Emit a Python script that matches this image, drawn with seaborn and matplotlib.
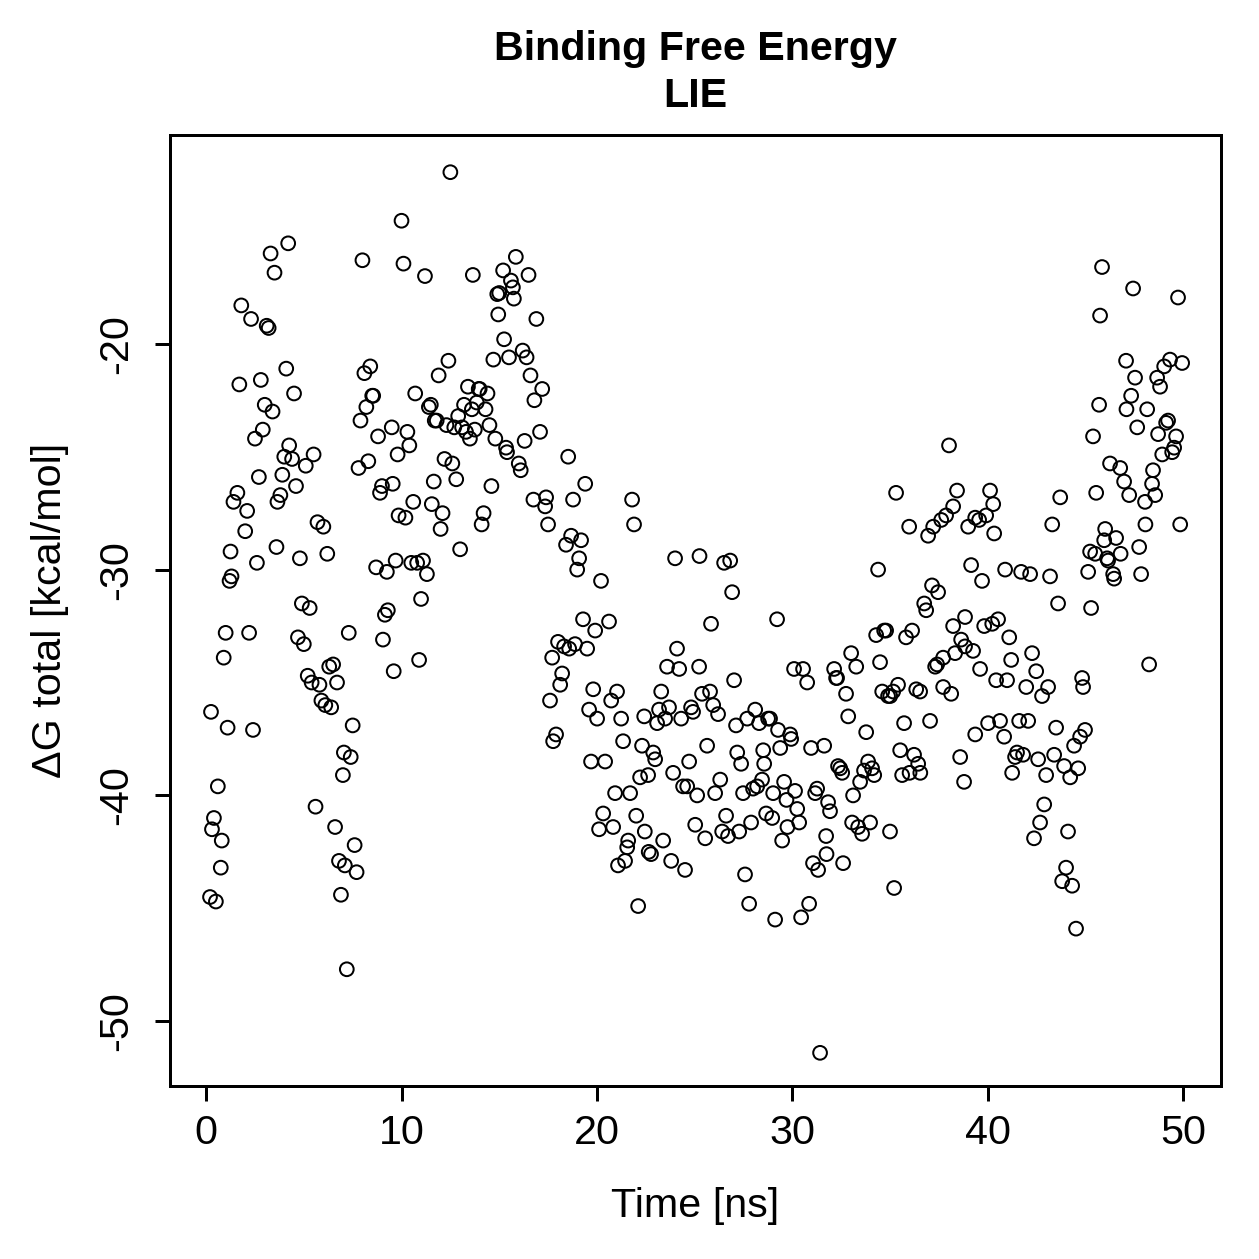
#!/usr/bin/env python3

from matplotlib import pyplot as plt
import seaborn as sns

# LIE binding free energy over the trajectory
time_ns = [
    0.2, 0.25, 0.3, 0.4, 0.5, 0.6, 0.75, 0.8, 0.9, 1.0,
    1.1, 1.2, 1.25, 1.3, 1.4, 1.6, 1.7, 1.8, 2.0, 2.1,
    2.2, 2.3, 2.4, 2.5, 2.6, 2.7, 2.8, 2.9, 3.0, 3.1,
    3.2, 3.3, 3.4, 3.5, 3.6, 3.65, 3.8, 3.9, 4.0, 4.1,
    4.2, 4.25, 4.4, 4.5, 4.6, 4.7, 4.8, 4.9, 5.0, 5.1,
    5.2, 5.3, 5.4, 5.5, 5.6, 5.7, 5.8, 5.9, 6.0, 6.1,
    6.2, 6.3, 6.4, 6.5, 6.6, 6.7, 6.8, 6.9, 7.0, 7.05,
    7.1, 7.2, 7.3, 7.4, 7.5, 7.6, 7.7, 7.8, 7.9, 8.0,
    8.1, 8.2, 8.3, 8.4, 8.5, 8.55, 8.7, 8.8, 8.9, 9.0,
    9.05, 9.15, 9.25, 9.3, 9.5, 9.55, 9.6, 9.7, 9.8, 9.85,
    10.0, 10.1, 10.2, 10.3, 10.4, 10.5, 10.6, 10.7, 10.8, 10.9,
    11.0, 11.1, 11.2, 11.3, 11.4, 11.5, 11.55, 11.65, 11.7, 11.8,
    11.9, 12.0, 12.1, 12.2, 12.3, 12.4, 12.5, 12.6, 12.7, 12.8,
    12.9, 13.0, 13.1, 13.2, 13.3, 13.4, 13.5, 13.6, 13.65, 13.75,
    13.85, 13.95, 14.0, 14.1, 14.2, 14.3, 14.4, 14.5, 14.6, 14.7,
    14.8, 14.9, 14.95, 15.0, 15.2, 15.25, 15.35, 15.4, 15.5, 15.6,
    15.7, 15.75, 15.85, 16.0, 16.1, 16.2, 16.3, 16.4, 16.5, 16.6,
    16.75, 16.8, 16.9, 17.09, 17.2, 17.35, 17.4, 17.5, 17.6, 17.71,
    17.76, 17.91, 18.01, 18.12, 18.22, 18.32, 18.42, 18.53, 18.58, 18.68,
    18.78, 18.88, 18.99, 19.09, 19.19, 19.29, 19.4, 19.5, 19.6, 19.7,
    19.81, 20.01, 19.91, 20.11, 20.21, 20.32, 20.42, 20.62, 20.73, 20.83,
    20.93, 21.03, 21.08, 21.24, 21.34, 21.44, 21.55, 21.6, 21.7, 21.8,
    21.9, 22.01, 22.11, 22.21, 22.42, 22.31, 22.45, 22.62, 22.65, 22.77,
    22.88, 22.98, 23.08, 23.18, 23.29, 23.39, 23.49, 23.59, 23.69, 23.8,
    23.9, 24.0, 24.1, 24.21, 24.31, 24.41, 24.51, 24.62, 24.72, 24.82,
    24.92, 25.03, 25.13, 25.23, 25.25, 25.38, 25.54, 25.64, 25.79, 25.84,
    25.95, 26.05, 26.2, 26.31, 26.41, 26.51, 26.61, 26.71, 26.82, 26.92,
    27.02, 27.12, 27.18, 27.28, 27.38, 27.48, 27.58, 27.69, 27.79, 27.89,
    27.99, 28.1, 28.2, 28.3, 28.45, 28.51, 28.56, 28.66, 28.76, 28.86,
    28.97, 29.02, 29.12, 29.22, 29.27, 29.38, 29.48, 29.58, 29.7, 29.75,
    29.94, 29.89, 30.09, 30.14, 30.25, 30.35, 30.45, 30.55, 30.76, 30.86,
    30.96, 31.06, 31.17, 31.27, 31.32, 31.42, 31.63, 31.73, 31.75, 31.83,
    31.93, 32.14, 32.24, 32.29, 32.34, 32.45, 32.55, 32.6, 32.75, 32.86,
    33.01, 33.06, 33.11, 33.27, 33.37, 33.47, 33.57, 33.67, 33.78, 33.88,
    33.98, 34.08, 34.19, 34.29, 34.39, 34.49, 34.6, 34.7, 34.8, 34.9,
    35.01, 35.0, 35.16, 35.21, 35.31, 35.41, 35.52, 35.62, 35.72, 35.82,
    35.98, 36.0, 36.13, 36.23, 36.34, 36.44, 36.54, 36.55, 36.75, 36.85,
    36.95, 37.05, 37.15, 37.21, 37.31, 37.46, 37.41, 37.62, 37.72, 37.87,
    37.72, 38.02, 38.13, 38.23, 38.23, 38.33, 38.43, 38.64, 38.59, 38.79,
    38.84, 38.84, 39.0, 39.15, 39.25, 39.36, 39.36, 39.56, 39.61, 39.71,
    39.82, 39.92, 40.02, 40.12, 40.23, 40.33, 40.28, 40.43, 40.53, 40.63,
    40.84, 40.89, 40.99, 41.1, 41.25, 41.2, 41.4, 41.5, 41.61, 41.71,
    41.81, 41.97, 42.07, 42.17, 42.27, 42.48, 42.37, 42.58, 42.68, 42.89,
    42.78, 42.99, 43.09, 43.19, 43.3, 43.4, 43.5, 43.6, 43.71, 43.81,
    44.01, 43.91, 44.11, 44.22, 44.32, 44.42, 44.52, 44.63, 44.73, 44.83,
    44.88, 44.98, 45.14, 45.24, 45.29, 45.39, 45.5, 45.55, 45.7, 45.75,
    45.85, 45.96, 46.01, 46.11, 46.26, 46.16, 46.42, 46.47, 46.57, 46.78,
    46.8, 46.98, 47.08, 47.1, 47.24, 47.34, 47.44, 47.54, 47.65, 47.85,
    47.75, 48.05, 48.07, 48.16, 48.26, 48.41, 48.46, 48.57, 48.67, 48.72,
    48.82, 48.93, 49.03, 49.13, 49.23, 49.33, 49.44, 49.54, 49.64, 49.74,
    49.95, 49.85,
]
dg_total = [
    -44.5, -36.3, -41.5, -41.0, -44.7, -39.6, -43.2, -42.0, -33.9, -32.8,
    -37.0, -30.5, -29.2, -30.3, -27.0, -26.6, -21.8, -18.3, -28.3, -27.4,
    -32.8, -18.9, -37.1, -24.2, -29.7, -25.9, -21.6, -23.8, -22.7, -19.2,
    -19.3, -16.0, -23.0, -16.85, -29.0, -27.0, -26.7, -25.8, -25.0, -21.1,
    -15.55, -24.5, -25.1, -22.2, -26.3, -33.0, -29.5, -31.5, -33.3, -25.4,
    -34.7, -31.7, -35.0, -24.9, -40.5, -27.9, -35.1, -35.8, -28.1, -36.0,
    -29.3, -34.3, -36.1, -34.2, -41.4, -35.0, -42.9, -44.4, -39.1, -38.1,
    -43.1, -47.7, -32.8, -38.3, -36.9, -42.2, -43.4, -25.5, -23.4, -16.3,
    -21.3, -22.8, -25.2, -21.0, -22.3, -22.3, -29.9, -24.1, -26.6, -26.3,
    -33.1, -32.0, -30.1, -31.8, -23.7, -26.2, -34.5, -29.6, -24.9, -27.6,
    -14.55, -16.45, -27.7, -23.9, -24.5, -29.7, -27.0, -22.2, -29.7, -34.0,
    -31.3, -29.6, -17.0, -30.2, -22.8, -22.7, -27.1, -26.1, -23.4, -23.4,
    -21.4, -28.2, -27.5, -25.1, -23.6, -20.75, -12.4, -25.3, -23.7, -26.0,
    -23.2, -29.1, -23.7, -22.7, -23.9, -21.9, -24.2, -22.9, -16.95, -23.8,
    -22.6, -22.0, -22.0, -28.0, -27.5, -22.9, -22.2, -23.6, -26.3, -20.7,
    -24.2, -17.8, -18.7, -17.75, -16.75, -19.8, -24.6, -24.8, -20.6, -17.2,
    -17.5, -18.0, -16.15, -25.3, -25.6, -20.3, -24.3, -20.6, -16.95, -21.4,
    -26.9, -22.5, -18.9, -23.9, -22.0, -27.2, -26.8, -28.0, -35.8, -33.9,
    -37.6, -37.3, -33.2, -35.1, -34.6, -33.4, -28.9, -25.0, -33.5, -28.5,
    -26.9, -33.3, -30.0, -29.5, -28.7, -32.2, -26.2, -33.5, -36.2, -38.5,
    -35.3, -36.6, -32.7, -41.5, -30.5, -40.8, -38.5, -32.3, -35.8, -41.4,
    -39.9, -35.4, -43.1, -36.6, -37.6, -42.9, -42.3, -42.0, -39.9, -26.9,
    -28.0, -40.9, -44.9, -39.2, -36.5, -37.8, -41.6, -39.1, -42.5, -42.6,
    -38.1, -38.4, -36.8, -36.2, -35.4, -42.0, -36.6, -34.3, -36.1, -42.9,
    -39.0, -29.5, -33.5, -34.4, -36.6, -39.6, -43.3, -39.6, -38.5, -36.1,
    -36.3, -41.3, -40.0, -34.3, -29.4, -35.5, -41.9, -37.8, -35.4, -32.4,
    -36.0, -39.9, -36.4, -39.3, -41.6, -29.7, -40.9, -41.8, -29.6, -31.0,
    -34.9, -36.9, -38.1, -41.6, -38.6, -39.9, -43.5, -36.6, -44.8, -41.2,
    -39.7, -36.2, -39.6, -36.8, -39.3, -38.0, -38.6, -40.8, -36.6, -36.6,
    -41.0, -39.9, -45.5, -32.2, -37.1, -37.9, -42.0, -39.4, -40.2, -41.4,
    -37.5, -37.3, -34.4, -39.8, -40.6, -41.2, -45.4, -34.4, -35.0, -44.8,
    -37.9, -43.0, -39.9, -39.7, -43.3, -51.4, -37.8, -41.8, -42.6, -40.3,
    -40.7, -34.4, -34.8, -34.8, -38.7, -38.8, -39.0, -43.0, -35.5, -36.5,
    -33.7, -41.2, -40.0, -34.3, -41.4, -39.4, -41.7, -38.9, -37.2, -38.5,
    -41.2, -38.8, -39.1, -32.9, -30.0, -34.1, -35.4, -32.7, -32.7, -35.6,
    -35.6, -41.6, -35.4, -44.1, -26.6, -35.1, -38.0, -39.1, -36.8, -33.0,
    -28.1, -39.0, -32.7, -38.2, -35.3, -38.6, -35.4, -39.0, -31.5, -31.8,
    -28.5, -36.7, -30.7, -28.1, -34.3, -31.0, -34.2, -27.8, -33.9, -27.6,
    -35.2, -24.5, -35.5, -27.2, -32.5, -33.7, -26.5, -33.1, -38.3, -39.4,
    -33.4, -32.1, -28.1, -29.8, -33.6, -27.7, -37.3, -27.8, -34.4, -30.5,
    -32.5, -27.6, -36.8, -26.5, -32.4, -28.4, -27.1, -34.9, -32.2, -36.7,
    -37.4, -30.0, -34.9, -33.0, -39.0, -34.0, -38.3, -38.1, -36.7, -30.1,
    -38.2, -35.2, -36.7, -30.2, -33.7, -34.5, -41.9, -38.4, -41.2, -40.4,
    -35.6, -39.1, -35.2, -30.3, -28.0, -38.2, -37.0, -31.5, -26.8, -43.8,
    -43.2, -38.7, -41.6, -39.2, -44.0, -37.8, -45.9, -38.8, -37.4, -34.8,
    -35.2, -37.1, -30.1, -29.2, -31.7, -24.1, -29.3, -26.6, -22.7, -18.75,
    -16.6, -28.7, -28.2, -29.5, -25.3, -29.6, -30.2, -30.4, -28.6, -25.5,
    -29.3, -26.1, -20.75, -22.9, -26.7, -22.3, -17.55, -21.5, -23.7, -30.2,
    -29.0, -27.0, -28.0, -22.9, -34.2, -26.2, -25.6, -26.7, -21.5, -24.0,
    -21.9, -24.9, -21.0, -23.5, -23.4, -20.7, -24.8, -24.6, -24.1, -17.95,
    -20.85, -28.0,
]
x_ticks = [0, 10, 20, 30, 40, 50]
y_ticks = [-50, -40, -30, -20]


def main():
    sns.set_theme(style="white")
    plt.rcParams["font.family"] = ["Liberation Sans", "DejaVu Sans"]

    fig = plt.figure(figsize=(1259 / 180, 1259 / 180), dpi=180)
    ax = fig.add_axes([0.135, 0.1374, 0.835, 0.7556])

    sns.scatterplot(
            x=time_ns, y=dg_total, ax=ax,
            marker="o", s=30, facecolors="none", edgecolor="black",
            linewidth=0.8,
            )

    ax.set_xlim(-1.85, 51.95)
    ax.set_ylim(-52.87, -10.74)
    ax.set_xticks(x_ticks)
    ax.set_yticks(y_ticks)
    ax.set_yticklabels([str(t) for t in y_ticks], rotation=90, va="center")

    for side in ax.spines.values():
        side.set_visible(True)
        side.set_color("black")
        side.set_linewidth(1.2)

    ax.tick_params(
            axis="both", direction="out", length=6, width=1.2,
            color="black", labelsize=16.5, labelcolor="black",
            bottom=True, left=True, top=False, right=False, pad=5,
            )
    ax.tick_params(axis="y", pad=8)

    ax.set_xlabel("Time [ns]", fontsize=16.5, color="black", labelpad=14)
    ax.set_ylabel("ΔG total [kcal/mol]", fontsize=16.5, color="black",
                  labelpad=11)
    ax.set_title("Binding Free Energy\nLIE", fontsize=16.5,
                 fontweight="bold", color="black", pad=11, linespacing=1.3)

    plt.savefig("out.png", dpi=180)


if __name__ == "__main__":
    main()
